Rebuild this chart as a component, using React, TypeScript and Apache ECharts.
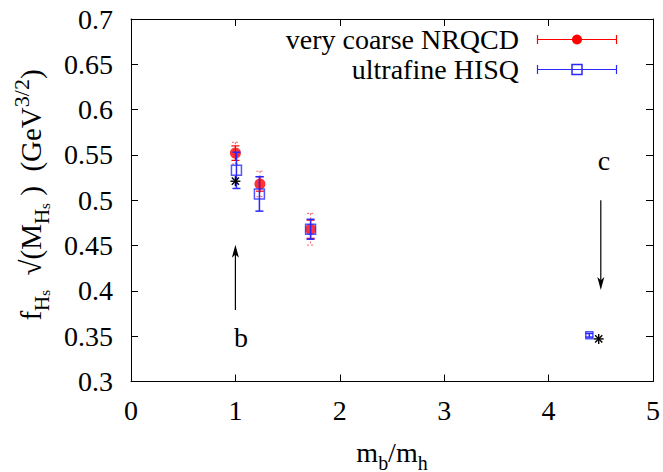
import React, { useEffect, useRef } from "react";
import * as echarts from "echarts";

// ---- data ----
const nrqcdX = [1.0, 1.235, 1.72];
const nrqcdY = [0.552, 0.518, 0.468];
const nrqcdStat = [0.008, 0.008, 0.01];
const nrqcdTot = [0.012, 0.014, 0.0175];

const hisqX = [1.01, 1.23, 1.72, 4.39];
const hisqY = [0.533, 0.507, 0.468, 0.351];
const hisqErr = [0.02, 0.019, 0.011, 0.002];

const starX = [1.0, 4.48];
const starY = [0.521, 0.347];

const arrowX = [1.0, 4.5];
const arrowFrom = [0.379, 0.5];
const arrowTo = [0.451, 0.401];
const arrowLabels = ["b", "c"];
const arrowLabelX = [1.054, 4.53];
const arrowLabelY = [0.349, 0.544];

const legendNames = ["very coarse NRQCD", "ultrafine HISQ"];

const FONT = "Liberation Serif, Times New Roman, serif";
const RED = "#ff0000";
const RED_LIGHT = "#ff5a5a";
const BLUE = "#2828ff";

function errBarItem(stroke: string, lw: number, dash: number[] | null, cap: number) {
  return (params: any, api: any) => {
    const x = api.value(0);
    const y = api.value(1);
    const e = api.value(2);
    const t = api.coord([x, y + e]);
    const b = api.coord([x, y - e]);
    const style: any = { stroke, lineWidth: lw };
    if (dash) style.lineDash = dash;
    return {
      type: "group",
      children: [
        { type: "line", shape: { x1: t[0], y1: t[1], x2: b[0], y2: b[1] }, style },
        { type: "line", shape: { x1: t[0] - cap, y1: t[1], x2: t[0] + cap, y2: t[1] }, style },
        { type: "line", shape: { x1: b[0] - cap, y1: b[1], x2: b[0] + cap, y2: b[1] }, style },
      ],
    };
  };
}

export default function App() {
  const ref = useRef<HTMLDivElement>(null);
  useEffect(() => {
    document.body.style.margin = "0";
    const chart = echarts.init(ref.current!, null, { renderer: "svg" });

    const axisCommon = {
      axisLine: { show: true, onZero: false, lineStyle: { color: "#000", width: 1 } },
      axisTick: { show: true, inside: true, length: 7, lineStyle: { color: "#000", width: 1 } },
      splitLine: { show: false },
    };

    const option: any = {
      animation: false,
      backgroundColor: "#fff",
      textStyle: { fontFamily: FONT },
      grid: { left: 131, right: 10, top: 19, bottom: 90.5, containLabel: false, outerBoundsMode: "none" },
      xAxis: [
        {
          type: "value",
          min: 0,
          max: 5,
          interval: 1,
          position: "bottom",
          ...axisCommon,
          axisLabel: { color: "#000", fontSize: 28, fontFamily: FONT, margin: 15 },
          name: "{n|m}{s|b}{n|/m}{s|h}",
          nameLocation: "middle",
          nameGap: 51,
          nameTextStyle: {
            color: "#000",
            fontFamily: FONT,
            rich: {
              n: { fontSize: 28, fontFamily: FONT, color: "#000", lineHeight: 40, verticalAlign: "middle" },
              s: { fontSize: 20, fontFamily: FONT, color: "#000", lineHeight: 20, verticalAlign: "bottom" },
            },
          },
        },
        {
          type: "value",
          min: 0,
          max: 5,
          interval: 1,
          position: "top",
          ...axisCommon,
          axisLabel: { show: false },
        },
      ],
      yAxis: [
        {
          type: "value",
          min: 0.3,
          max: 0.7,
          interval: 0.05,
          position: "left",
          ...axisCommon,
          axisLabel: {
            color: "#000",
            fontSize: 28,
            fontFamily: FONT,
            margin: 18,
            formatter: (v: number) => String(Number(v.toFixed(2))),
          },
        },
        {
          type: "value",
          min: 0.3,
          max: 0.7,
          interval: 0.05,
          position: "right",
          ...axisCommon,
          axisLabel: { show: false },
        },
      ],
      series: [
        // arrows
        {
          type: "custom",
          data: arrowX.map((x, i) => [x, arrowFrom[i], arrowTo[i]]),
          renderItem: (params: any, api: any) => {
            const x = api.value(0);
            const p0 = api.coord([x, api.value(1)]);
            const p1 = api.coord([x, api.value(2)]);
            const dir = p1[1] > p0[1] ? 1 : -1;
            const hl = 13;
            const hw = 3.5;
            return {
              type: "group",
              children: [
                { type: "line", shape: { x1: p0[0], y1: p0[1], x2: p1[0], y2: p1[1] - dir * hl * 0.7 }, style: { stroke: "#000", lineWidth: 1.2 } },
                {
                  type: "polygon",
                  shape: { points: [[p1[0], p1[1]], [p1[0] - hw, p1[1] - dir * hl], [p1[0], p1[1] - dir * hl * 0.75], [p1[0] + hw, p1[1] - dir * hl]] },
                  style: { fill: "#000" },
                },
              ],
            };
          },
          z: 1,
        },
        // arrow labels
        {
          type: "custom",
          data: arrowLabelX.map((x, i) => [x, arrowLabelY[i]]),
          renderItem: (params: any, api: any) => {
            const p = api.coord([api.value(0), api.value(1)]);
            return {
              type: "text",
              x: p[0],
              y: p[1],
              style: { text: arrowLabels[params.dataIndex], fontSize: 28, fontFamily: FONT, fill: "#000", textAlign: "center", textVerticalAlign: "middle" },
            };
          },
          z: 1,
        },
        // NRQCD total errors (dashed)
        {
          type: "custom",
          data: nrqcdX.map((x, i) => [x, nrqcdY[i], nrqcdTot[i]]),
          renderItem: errBarItem(RED_LIGHT, 1, [2, 2], 3.5),
          z: 2,
        },
        // NRQCD stat errors
        {
          type: "custom",
          data: nrqcdX.map((x, i) => [x, nrqcdY[i], nrqcdStat[i]]),
          renderItem: errBarItem(RED, 1.2, null, 4),
          z: 3,
        },
        {
          type: "scatter",
          name: legendNames[0],
          data: nrqcdX.map((x, i) => [x, nrqcdY[i]]),
          symbol: "circle",
          symbolSize: 11,
          itemStyle: { color: RED },
          z: 4,
        },
        // HISQ
        {
          type: "custom",
          data: hisqX.map((x, i) => [x, hisqY[i], hisqErr[i]]),
          renderItem: errBarItem(BLUE, 1.5, null, 4),
          z: 5,
        },
        {
          type: "scatter",
          name: legendNames[1],
          data: hisqX.map((x, i) => [x, hisqY[i]]),
          symbol: "rect",
          symbolSize: (v: any, p: any) => (p.dataIndex === 3 ? 7 : 10),
          itemStyle: { color: "rgba(0,0,0,0)", borderColor: BLUE, borderWidth: 1.5 },
          z: 6,
        },
        // stars
        {
          type: "custom",
          data: starX.map((x, i) => [x, starY[i]]),
          renderItem: (params: any, api: any) => {
            const p = api.coord([api.value(0), api.value(1)]);
            const r = 5;
            const d = r * 0.72;
            const st = { stroke: "#000", lineWidth: 1.4 };
            return {
              type: "group",
              children: [
                { type: "line", shape: { x1: p[0] - r, y1: p[1], x2: p[0] + r, y2: p[1] }, style: st },
                { type: "line", shape: { x1: p[0], y1: p[1] - r, x2: p[0], y2: p[1] + r }, style: st },
                { type: "line", shape: { x1: p[0] - d, y1: p[1] - d, x2: p[0] + d, y2: p[1] + d }, style: st },
                { type: "line", shape: { x1: p[0] - d, y1: p[1] + d, x2: p[0] + d, y2: p[1] - d }, style: st },
              ],
            };
          },
          z: 7,
        },
      ],
      graphic: [
        // y-axis title
        {
          type: "text",
          x: 31,
          y: 195,
          rotation: Math.PI / 2,
          style: {
            text: "{n|f}{s|H}{ss|s}{n|  √(M}{s|H}{ss|s}{n| )  (GeV}{sup|3/2}{n|)}",
            textAlign: "center",
            textVerticalAlign: "middle",
            fill: "#000",
            fontFamily: FONT,
            rich: {
              n: { fontSize: 29, fontFamily: FONT, fill: "#000", lineHeight: 42, verticalAlign: "middle" },
              s: { fontSize: 21, fontFamily: FONT, fill: "#000", lineHeight: 20, verticalAlign: "bottom" },
              ss: { fontSize: 15, fontFamily: FONT, fill: "#000", lineHeight: 9, verticalAlign: "bottom" },
              sup: { fontSize: 22, fontFamily: FONT, fill: "#000", lineHeight: 18, verticalAlign: "top" },
            },
          },
        },
        // legend
        {
          type: "text",
          x: 519,
          y: 39,
          style: { text: legendNames[0], fontSize: 28, fontFamily: FONT, fill: "#000", textAlign: "right", textVerticalAlign: "middle" },
        },
        {
          type: "text",
          x: 519,
          y: 69,
          style: { text: legendNames[1], fontSize: 28, fontFamily: FONT, fill: "#000", textAlign: "right", textVerticalAlign: "middle" },
        },
        { type: "line", shape: { x1: 537.5, y1: 39.5, x2: 616.5, y2: 39.5 }, style: { stroke: RED, lineWidth: 1.2 } },
        { type: "line", shape: { x1: 537.5, y1: 35, x2: 537.5, y2: 44 }, style: { stroke: RED, lineWidth: 1.2 } },
        { type: "line", shape: { x1: 616.5, y1: 35, x2: 616.5, y2: 44 }, style: { stroke: RED, lineWidth: 1.2 } },
        { type: "circle", shape: { cx: 577, cy: 39.5, r: 5 }, style: { fill: RED } },
        { type: "line", shape: { x1: 537.5, y1: 69.5, x2: 616.5, y2: 69.5 }, style: { stroke: BLUE, lineWidth: 1.2 } },
        { type: "line", shape: { x1: 537.5, y1: 65, x2: 537.5, y2: 74 }, style: { stroke: BLUE, lineWidth: 1.2 } },
        { type: "line", shape: { x1: 616.5, y1: 65, x2: 616.5, y2: 74 }, style: { stroke: BLUE, lineWidth: 1.2 } },
        { type: "rect", shape: { x: 572, y: 64.5, width: 10, height: 10 }, style: { fill: "rgba(0,0,0,0)", stroke: BLUE, lineWidth: 1.5 } },
      ],
    };
    chart.setOption(option);
    return () => chart.dispose();
  }, []);
  return <div ref={ref} style={{ width: 663, height: 472 }} />;
}
